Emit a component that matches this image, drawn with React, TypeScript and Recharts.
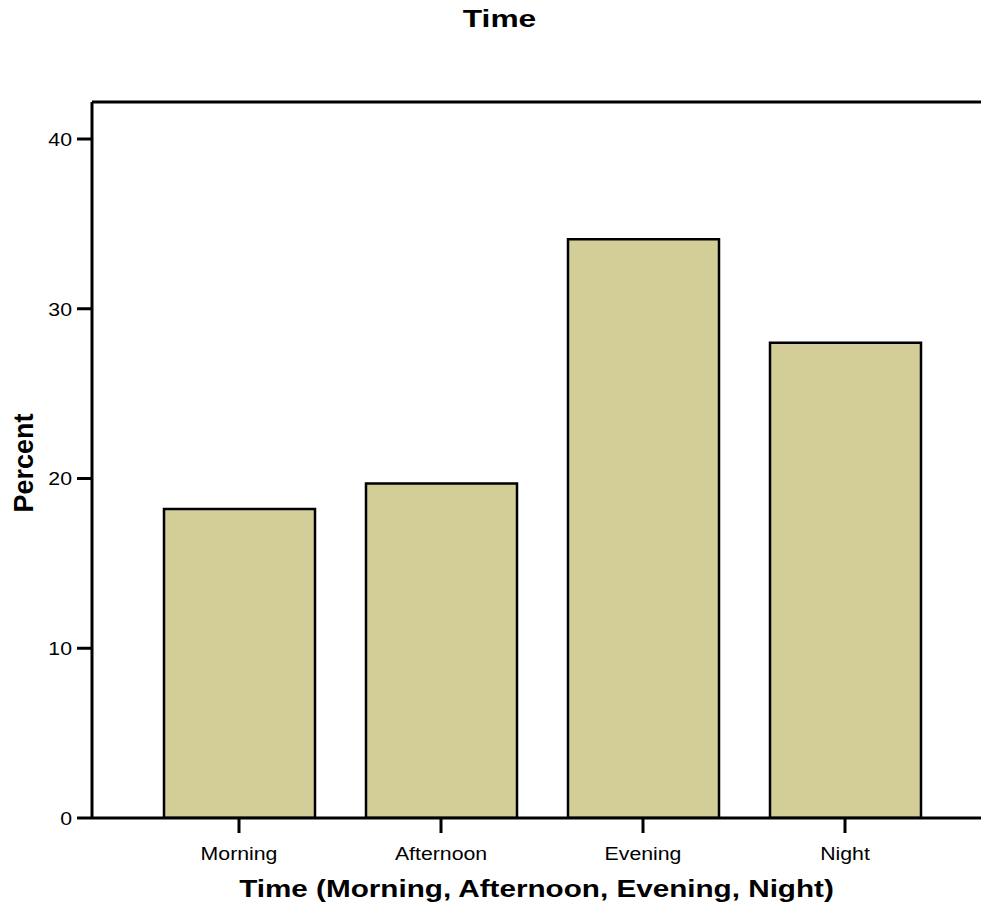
import React from 'react';
import { BarChart, Bar, XAxis, YAxis, ReferenceLine } from 'recharts';

const categories = ['Morning', 'Afternoon', 'Evening', 'Night'];
const percents = [18.2, 19.7, 34.1, 28.0];
const yTicks = [0, 10, 20, 30, 40];
const yMax = 42.18;

const data = categories.map((c, i) => ({ name: c, value: percents[i] }));

const FONT = '"Liberation Sans", Arial, Helvetica, sans-serif';

const XTick = (props: any) => {
  const { x, y, payload } = props;
  return (
    <g transform={`translate(${x},${y}) scale(1.12,1)`}>
      <text x={0} y={0} dy={27} textAnchor="middle" fontFamily={FONT} fontSize={19} fill="#000">
        {payload.value}
      </text>
    </g>
  );
};

const YTick = (props: any) => {
  const { x, y, payload } = props;
  return (
    <g transform={`translate(${x},${y}) scale(1.12,1)`}>
      <text x={0} y={0} dy="0.36em" textAnchor="end" fontFamily={FONT} fontSize={19} fill="#000">
        {payload.value}
      </text>
    </g>
  );
};

export default function App() {
  return (
    <div style={{ position: 'absolute', left: 0, top: 0, width: 981, height: 905, overflow: 'hidden', background: '#fff' }}>
      <BarChart
        width={992}
        height={905}
        data={data}
        margin={{ top: 102, right: 0, bottom: 27, left: 12 }}
      >
        <XAxis
          dataKey="name"
          height={60}
          padding={{ left: 46, right: 46 }}
          tickSize={15}
          tickMargin={0}
          axisLine={{ stroke: '#000', strokeWidth: 3 }}
          tickLine={{ stroke: '#000', strokeWidth: 3 }}
          tick={<XTick />}
          interval={0}
        />
        <YAxis
          width={80}
          domain={[0, yMax]}
          ticks={yTicks}
          allowDataOverflow
          tickSize={15}
          tickMargin={5}
          axisLine={{ stroke: '#000', strokeWidth: 3 }}
          tickLine={{ stroke: '#000', strokeWidth: 3 }}
          tick={<YTick />}
        />
        <ReferenceLine y={yMax} stroke="#000" strokeWidth={3} ifOverflow="extendDomain" />
        <Bar dataKey="value" fill="#D3CE98" stroke="#000" strokeWidth={2.5} barSize={151} isAnimationActive={false} />
      </BarChart>
      <svg width={981} height={905} style={{ position: 'absolute', left: 0, top: 0, pointerEvents: 'none' }}>
        <g transform="translate(499.5,27) scale(1.35,1)">
          <text x={0} y={0} textAnchor="middle" fontFamily={FONT} fontWeight="bold" fontSize={23.5} fill="#000">Time</text>
        </g>
        <g transform="translate(536.5,897) scale(1.29,1)">
          <text x={0} y={0} textAnchor="middle" fontFamily={FONT} fontWeight="bold" fontSize={23} fill="#000">
            Time (Morning, Afternoon, Evening, Night)
          </text>
        </g>
        <g transform="translate(33,463) rotate(-90)">
          <text x={0} y={0} textAnchor="middle" fontFamily={FONT} fontWeight="bold" fontSize={27} fill="#000">Percent</text>
        </g>
      </svg>
    </div>
  );
}
